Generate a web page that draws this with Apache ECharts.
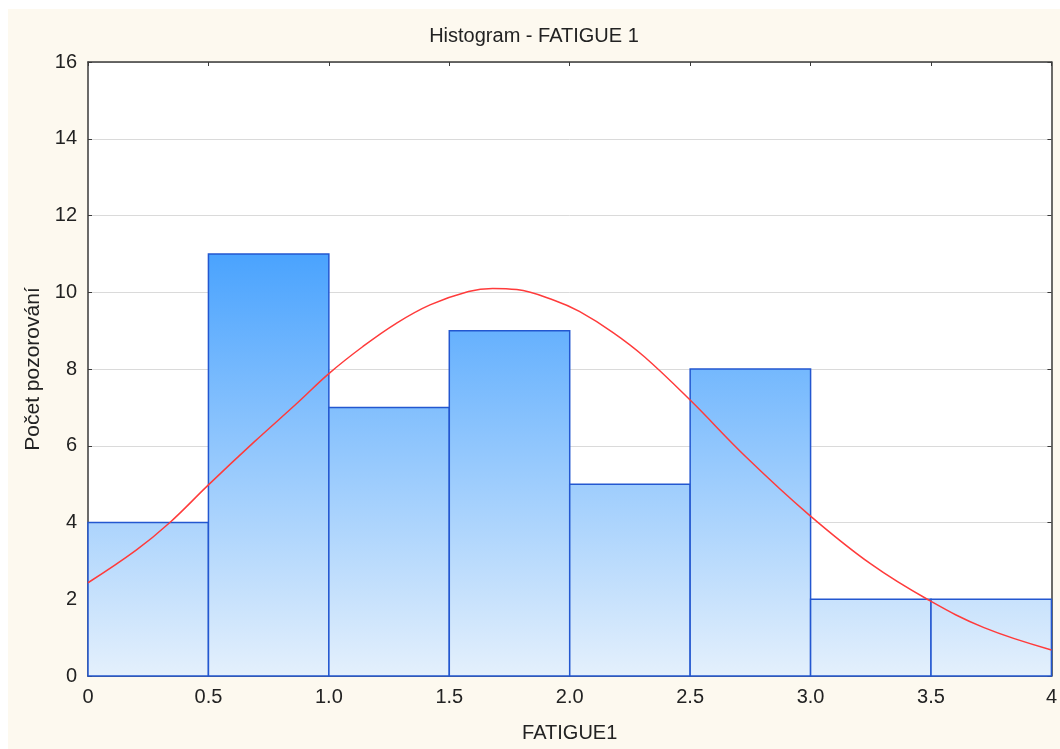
<!DOCTYPE html>
<html>
<head>
<meta charset="utf-8">
<script src="https://cdn.jsdelivr.net/npm/echarts@6/dist/echarts.min.js"></script>
<style>
  html, body { margin: 0; padding: 0; background: #ffffff; }
  #chart { position: absolute; left: 8px; top: 9px; width: 1052px; height: 740px; }
</style>
</head>
<body>
<div id="chart"></div>
<script>
// histogram bins (FATIGUE1) and counts
const binStarts = [0, 0.5, 1.0, 1.5, 2.0, 2.5, 3.0, 3.5]
const binEnds = [0.5, 1.0, 1.5, 2.0, 2.5, 3.0, 3.5, 4.0]
const counts = [4, 11, 7, 9, 5, 8, 2, 2]

// fitted normal curve
const curveX = [0, 0.2, 0.34, 0.5, 0.69, 0.87, 1.0, 1.14, 1.28, 1.42, 1.58, 1.68, 1.78, 1.94, 2.04, 2.18, 2.31, 2.5, 2.73, 2.99, 3.25, 3.49, 3.72, 4.0]
const curveY = [2.43, 3.28, 4.0, 4.98, 6.1, 7.12, 7.88, 8.58, 9.19, 9.67, 10.02, 10.1, 10.07, 9.78, 9.5, 8.95, 8.32, 7.19, 5.72, 4.22, 2.92, 1.98, 1.26, 0.68]

const xTickLabels = ['0', '0.5', '1.0', '1.5', '2.0', '2.5', '3.0', '3.5', '4']
const yTickLabels = ['0', '2', '4', '6', '8', '10', '12', '14', '16']

const font = 'Liberation Sans'
const frameColor = '#3a3a3a'
const textColor = '#222222'

const chart = echarts.init(document.getElementById('chart'))

const histData = binStarts.map((s, i) => [s, binEnds[i], counts[i]])
const curveData = curveX.map((x, i) => [x, curveY[i]])
const topCount = Math.max(...counts)

const frameLine = { show: true, onZero: false, lineStyle: { color: frameColor, width: 1.5 } }
const innerTick = { show: true, inside: true, length: 4, lineStyle: { color: frameColor } }

let option = {
  backgroundColor: '#fdf9ef',
  animation: false,
  title: {
    text: 'Histogram - FATIGUE 1',
    left: 'center',
    top: 12,
    textStyle: { fontFamily: font, fontSize: 20, fontWeight: 'normal', color: textColor }
  },
  grid: { left: 80, top: 53, right: 6, bottom: 73, show: true, backgroundColor: '#ffffff', borderWidth: 0 },
  xAxis: [
    {
      type: 'value',
      min: 0,
      max: 4,
      interval: 0.5,
      name: 'FATIGUE1',
      nameLocation: 'middle',
      nameGap: 47,
      nameTextStyle: { fontFamily: font, fontSize: 20, color: textColor },
      axisLine: frameLine,
      axisTick: innerTick,
      axisLabel: {
        margin: 11,
        fontFamily: font,
        fontSize: 20,
        color: textColor,
        formatter: (v) => xTickLabels[Math.round(v / 0.5)]
      },
      splitLine: { show: false }
    },
    {
      type: 'value',
      position: 'top',
      min: 0,
      max: 4,
      interval: 0.5,
      axisLine: frameLine,
      axisTick: innerTick,
      axisLabel: { show: false },
      splitLine: { show: false }
    }
  ],
  yAxis: [
    {
      type: 'value',
      min: 0,
      max: 16,
      interval: 2,
      name: 'Počet pozorování',
      nameLocation: 'middle',
      nameGap: 39,
      nameTextStyle: { fontFamily: font, fontSize: 21, color: textColor },
      axisLine: frameLine,
      axisTick: innerTick,
      axisLabel: {
        margin: 11,
        fontFamily: font,
        fontSize: 20,
        color: textColor,
        formatter: (v) => yTickLabels[Math.round(v / 2)]
      },
      splitLine: { show: true, lineStyle: { color: '#dadada', width: 1 } }
    },
    {
      type: 'value',
      position: 'right',
      min: 0,
      max: 16,
      interval: 2,
      axisLine: frameLine,
      axisTick: innerTick,
      axisLabel: { show: false },
      splitLine: { show: false }
    }
  ],
  series: [
    {
      name: 'hist',
      type: 'custom',
      xAxisIndex: 0,
      yAxisIndex: 0,
      z: 2,
      encode: { x: [0, 1], y: 2 },
      data: histData,
      renderItem (params, api) {
        const p0 = api.coord([api.value(0), api.value(2)])
        const p1 = api.coord([api.value(1), 0])
        const gTop = api.coord([0, topCount])[1]
        const gBottom = api.coord([0, 0])[1]
        return {
          type: 'rect',
          shape: { x: p0[0], y: p0[1], width: p1[0] - p0[0], height: p1[1] - p0[1] },
          style: {
            fill: {
              type: 'linear',
              x: 0, y: gTop, x2: 0, y2: gBottom,
              global: true,
              colorStops: [
                { offset: 0, color: '#4aa3fe' },
                { offset: 1, color: '#e4f0fc' }
              ]
            },
            stroke: '#2357d0',
            lineWidth: 1.5
          }
        }
      }
    },
    {
      name: 'normal',
      type: 'line',
      xAxisIndex: 0,
      yAxisIndex: 0,
      z: 3,
      smooth: 0.4,
      showSymbol: false,
      data: curveData,
      lineStyle: { color: '#ff3b3b', width: 1.5 }
    }
  ]
}

chart.setOption(option)
</script>
</body>
</html>
